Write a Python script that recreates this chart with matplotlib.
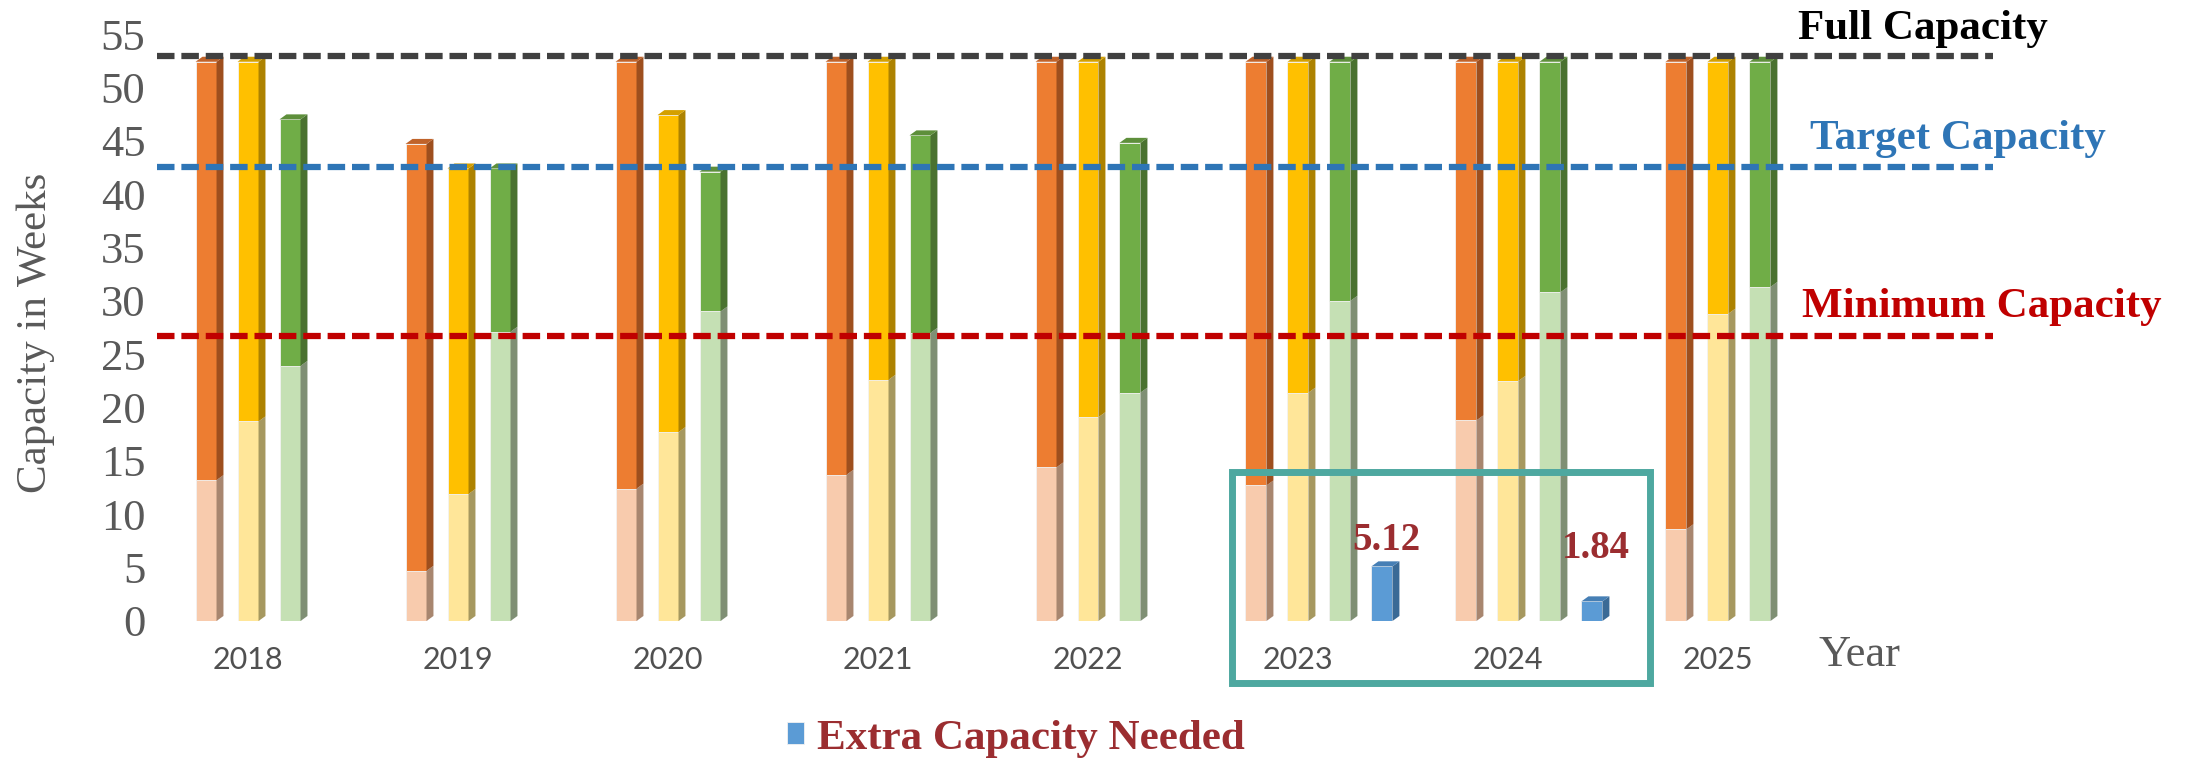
import numpy as np
import matplotlib
matplotlib.use("Agg")
import matplotlib.pyplot as plt
from matplotlib.patches import Polygon, Rectangle

# ---- data ----
years = ["2018", "2019", "2020", "2021", "2022", "2023", "2024", "2025"]

orange_total = [52.4, 44.7, 52.4, 52.4, 52.4, 52.4, 52.4, 52.4]
orange_light = [13.2, 4.7, 12.4, 13.7, 14.4, 12.7, 18.8, 8.6]

yellow_total = [52.4, 42.4, 47.4, 52.4, 52.4, 52.4, 52.4, 52.4]
yellow_light = [18.7, 11.9, 17.7, 22.6, 19.1, 21.4, 22.5, 28.8]

green_total = [47.0, 42.4, 42.1, 45.5, 44.8, 52.4, 52.4, 52.4]
green_light = [23.9, 27.1, 29.0, 27.0, 21.4, 30.0, 30.8, 31.3]

extra_years = ["2023", "2024"]
extra_values = [5.12, 1.84]

full_capacity = 52.9
target_capacity = 42.5
minimum_capacity = 26.7

SERIF = "Liberation Serif"
GRAY = "#595959"
DARK_RED = "#9B2D30"

# face colours: (light front, light side, dark front, dark side, top)
ORANGE = ("#F8CBAD", "#A8866F", "#ED7D31", "#9E4F1E", "#C0632A")
YELLOW = ("#FFE699", "#A6985F", "#FFC000", "#AD8200", "#D4A000")
GREEN = ("#C5E0B4", "#7F8F74", "#70AD47", "#4A7230", "#5E8F3B")
BLUE = ("#5B9BD5", "#3A6A96", "#5B9BD5", "#3A6A96", "#467FB5")

W = 0.1        # front width of a bar
SLOT = 0.2     # distance between bars in a group
DX = 0.033     # 3-D depth, x
DY = 0.47      # 3-D depth, y


def side_faces(ax, x, y0, y1, side_color, top_color=None):
    """Add the right side face (and the top face) of a pseudo 3-D bar."""
    xr = x + W / 2
    side = Polygon([(xr, y0), (xr + DX, y0 + DY), (xr + DX, y1 + DY), (xr, y1)],
                   closed=True, facecolor=side_color, edgecolor="none", zorder=2)
    ax.add_patch(side)
    if top_color is not None:
        top = Polygon([(x - W / 2, y1), (xr, y1), (xr + DX, y1 + DY), (x - W / 2 + DX, y1 + DY)],
                      closed=True, facecolor=top_color, edgecolor="none", zorder=2)
        ax.add_patch(top)


def draw_series(ax, xs, light, total, colors):
    light_front, light_side, dark_front, dark_side, top = colors
    dark = np.array(total) - np.array(light)
    ax.bar(xs, light, width=W, color=light_front, edgecolor="#F2F2F2", linewidth=0.6, zorder=2)
    ax.bar(xs, dark, bottom=light, width=W, color=dark_front, edgecolor="#F2F2F2",
           linewidth=0.6, zorder=2)
    for x, lo, hi in zip(xs, light, total):
        side_faces(ax, x, 0, lo, light_side)
        side_faces(ax, x, lo, hi, dark_side, top)


fig = plt.figure(figsize=(21.85, 7.59), dpi=100)
ax = fig.add_axes([155 / 2185, 138 / 759, 1845 / 2185, 587 / 759])

pos = np.arange(len(years))
draw_series(ax, pos - SLOT, orange_light, orange_total, ORANGE)
draw_series(ax, pos, yellow_light, yellow_total, YELLOW)
draw_series(ax, pos + SLOT, green_light, green_total, GREEN)

ext_pos = np.array([years.index(y) for y in extra_years]) + 2 * SLOT
extra = ax.bar(ext_pos, extra_values, width=W, color=BLUE[0], edgecolor="#F2F2F2",
               linewidth=0.6, zorder=2, label="Extra Capacity Needed")
for x, v in zip(ext_pos, extra_values):
    side_faces(ax, x, 0, v, BLUE[1], BLUE[4])

# value labels of the extra bars
for x, v, ty in zip(ext_pos, extra_values, [7.5, 6.8]):
    ax.text(x + 0.02, ty, f"{v:.2f}", ha="center", va="center", fontsize=28,
            fontweight="bold", family=SERIF, color=DARK_RED, zorder=5)

# capacity reference lines
x0, x1 = -0.433, 8.31
ax.hlines(full_capacity, x0, x1, colors="#404040", lw=4.5, linestyles=(0, (2.8, 1.1)), zorder=3)
ax.hlines(target_capacity, x0, x1, colors="#2E75B6", lw=4.5, linestyles=(0, (2.8, 1.1)), zorder=3)
ax.hlines(minimum_capacity, x0, x1, colors="#C00000", lw=4.5, linestyles=(0, (2.8, 1.1)), zorder=3)

ax.text(7.38, 55.5, "Full Capacity", fontsize=31, fontweight="bold", family=SERIF,
        color="black", va="center", ha="left", clip_on=False)
ax.text(7.44, 45.2, "Target Capacity", fontsize=31, fontweight="bold", family=SERIF,
        color="#2E75B6", va="center", ha="left", clip_on=False)
ax.text(7.40, 29.4, "Minimum Capacity", fontsize=31, fontweight="bold", family=SERIF,
        color="#C00000", va="center", ha="left", clip_on=False)

# highlight box round 2023-2024
box = Rectangle((4.686, -5.8), 6.676 - 4.686, 13.96 + 5.8, fill=False,
                edgecolor="#4EA8A0", lw=5, clip_on=False, zorder=4)
ax.add_patch(box)

ax.set_xlim(-0.443, 8.343)
ax.set_ylim(0, 55)
ax.set_yticks(np.arange(0, 56, 5))
ax.set_yticklabels([str(v) for v in range(0, 56, 5)], family=SERIF, fontsize=32, color=GRAY)
ax.set_xticks(pos)
ax.set_xticklabels(years, family="Lato", fontsize=22, color="#505050")
ax.tick_params(axis="both", length=0)
ax.tick_params(axis="y", pad=7)
ax.tick_params(axis="x", pad=18)
for s in ax.spines.values():
    s.set_visible(False)

ax.set_ylabel("Capacity in Weeks", family=SERIF, fontsize=31, color=GRAY)
ax.yaxis.set_label_coords(-0.054, 0.49)

ax.text(7.676, -3.2, "Year", family=SERIF, fontsize=32, color=GRAY,
        ha="center", va="center", clip_on=False)

leg = fig.legend(handles=[extra], loc="center", bbox_to_anchor=(0.465, 0.027),
                 frameon=False, handlelength=0.4, handleheight=0.4, handletextpad=0.3,
                 prop={"family": SERIF, "size": 31, "weight": "bold"})
for t in leg.get_texts():
    t.set_color(DARK_RED)

fig.savefig("out.png", dpi=100)
